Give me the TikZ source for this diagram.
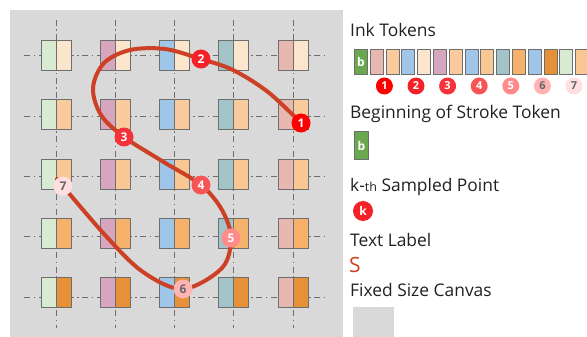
\documentclass[tikz,border=0pt]{standalone}
\usepackage{fontspec}
\setmainfont{Open Sans}
\definecolor{canvas}{HTML}{D9D9D9}
\definecolor{cg}{HTML}{D9EAD3}
\definecolor{cp}{HTML}{D5A6BD}
\definecolor{cb}{HTML}{9FC5E8}
\definecolor{ct}{HTML}{A2C4C9}
\definecolor{cr}{HTML}{E6B8AF}
\definecolor{ra}{HTML}{FCE5CD}
\definecolor{rb}{HTML}{F9CB9C}
\definecolor{rc}{HTML}{F9C794}
\definecolor{rd}{HTML}{F6B26B}
\definecolor{re}{HTML}{E69138}
\definecolor{bgreen}{HTML}{6AA84F}
\definecolor{strk}{HTML}{CC4125}
\definecolor{edge}{HTML}{6E6E6E}
\definecolor{ka}{HTML}{FF0000}
\definecolor{kb}{HTML}{F42228}
\definecolor{kc}{HTML}{F5313A}
\definecolor{kd}{HTML}{F75555}
\definecolor{ke}{HTML}{FF8A8A}
\definecolor{kf}{HTML}{FFB3B3}
\definecolor{kg}{HTML}{FFDFDF}
\definecolor{numgray}{HTML}{666666}
\definecolor{legtxt}{HTML}{202124}
\tikzset{
  gridline/.style={draw=edge, line width=1pt, dash pattern=on 6pt off 3.5pt on 1.5pt off 3.5pt},
  cellbox/.style={draw=edge, line width=1pt},
  ptmark/.style={circle, inner sep=0pt, minimum size=19pt, font=\bfseries\fontsize{12}{12}\selectfont, text=white},
  tok/.style={draw=edge, line width=1pt, minimum width=13pt, minimum height=25pt, inner sep=0pt, anchor=north west},
  legtext/.style={anchor=base west, inner sep=0pt, font=\fontsize{17.4}{17.4}\selectfont, text=legtxt},
  inkline/.style={draw=strk, line width=4pt, line cap=round, line join=round}
}
\begin{document}
\begin{tikzpicture}[x=1pt,y=-1pt]
\useasboundingbox (0,0) rectangle (587,337);
% canvas
\fill[canvas] (10,10) rectangle (343,337);
% grid lines
\foreach \i in {0,...,4} {
  \draw[gridline] ({56+59.25*\i},20) -- ({56+59.25*\i},328);
  \draw[gridline] (24,{56+60.3*\i}) -- (325,{56+60.3*\i});
}
% cells
\foreach \lc [count=\i from 0] in {cg,cp,cb,ct,cr} {
  \foreach \rc [count=\j from 0] in {ra,rb,rc,rd,re} {
    \pgfmathsetmacro{\cx}{56+59.25*\i}
    \pgfmathsetmacro{\cy}{55.7+59.2*\j}
    \filldraw[cellbox, fill=\lc] (\cx-15,\cy-15) rectangle (\cx,\cy+15);
    \filldraw[cellbox, fill=\rc] (\cx,\cy-15) rectangle (\cx+15,\cy+15);
  }
}
% sampled points
\coordinate (p1) at (301,123);
\coordinate (p2) at (201,59);
\coordinate (p3) at (124,137);
\coordinate (p4) at (201,185);
\coordinate (p5) at (231,238);
\coordinate (p6) at (183,289);
\coordinate (p7) at (63,186);
% stroke
\draw[inkline]
  plot[smooth, tension=0.55] coordinates {(301,123) (268,92) (233,70) (201,59) (165,49) (130,50) (104,63) (93,88) (101,115) (124,137) (162,161) (201,185) (222,210) (231,238) (222,268) (183,289) (143,272) (105,235) (57,179)};
% point markers
\foreach \n/\c/\t in {1/ka/white,2/kb/white,3/kc/white,4/kd/white,5/ke/white,6/kf/numgray,7/kg/numgray} {
  \node[ptmark, fill=\c, text=\t] (m\n) at (p\n) {\n};
}
% legend: ink tokens
\node[legtext] (lt1) at (350,37) {Ink Tokens};
\foreach \c [count=\k from 0] in {bgreen,cr,rb,cb,ra,cp,rb,cb,rc,ct,rd,cb,re,cg,rc} {
  \node[tok, fill=\c] (t\k) at ({354+15.8*\k},49) {};
}
\node[font=\bfseries\fontsize{12}{12}\selectfont, text=white] at (t0) {b};
\foreach \n/\c/\t in {1/ka/white,2/kb/white,3/kc/white,4/kd/white,5/ke/white,6/kf/numgray,7/kg/numgray} {
  \node[ptmark, minimum size=17pt, font=\bfseries\fontsize{11}{11}\selectfont, fill=\c, text=\t] (s\n) at ({354+15.8*(2*\n-1)+14.6},86) {\n};
}
% legend: beginning of stroke
\node[legtext] (lt2) at (350,119) {Beginning of Stroke Token};
\node[tok, fill=bgreen, minimum width=14pt, minimum height=28pt, font=\bfseries\fontsize{12}{12}\selectfont, text=white] (bt) at (354,131) {b};
% legend: sampled point
\node[legtext] (lt3) at (350,191) {k-{\fontsize{12.5}{12.5}\selectfont th} Sampled Point};
\node[ptmark, minimum size=20pt, fill=kb] (kk) at (363,211) {k};
% legend: text label
\node[legtext] (lt4) at (350,246) {Text Label};
\node[anchor=base west, inner sep=0pt, font=\fontsize{21}{21}\selectfont, text=strk] (sl) at (349,272) {S};
% legend: canvas
\node[legtext] (lt5) at (350,296) {Fixed Size Canvas};
\fill[canvas] (353,307) rectangle (394,337);
\end{tikzpicture}
\end{document}
